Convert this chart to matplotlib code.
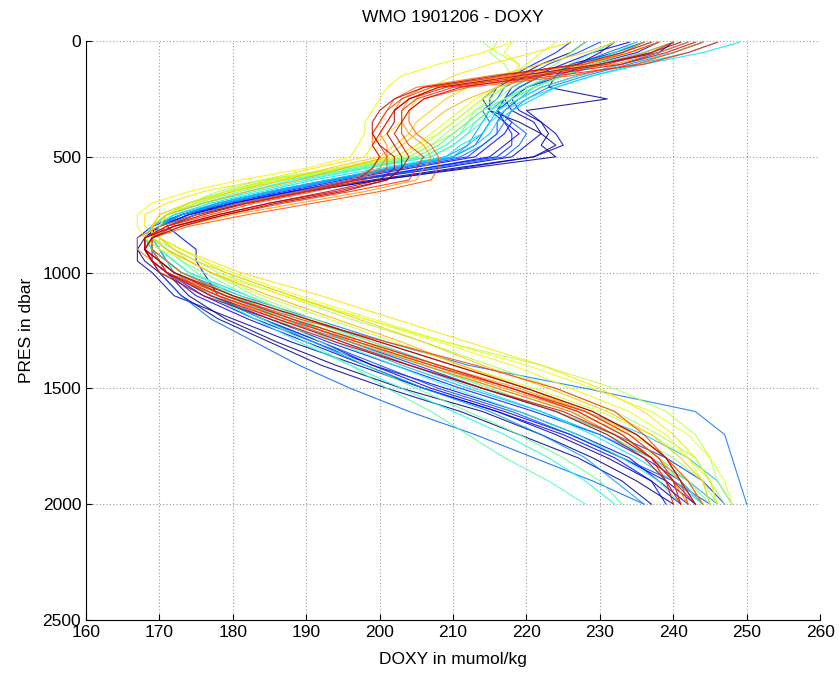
import matplotlib
matplotlib.use("Agg")
import matplotlib.pyplot as plt
import numpy as np

plt.rcParams['font.family'] = ['Liberation Sans Narrow', 'Liberation Sans', 'DejaVu Sans']

# niveles de presion (dbar)
pres = [5, 50, 100, 150, 200, 250, 300, 350, 400, 450, 500, 550, 600, 650, 700, 750,
        800, 850, 900, 950, 1000, 1100, 1200, 1300, 1400, 1500, 1600, 1700, 1800, 1900, 2000]

# perfiles DOXY (mumol/kg), en orden de ciclo
doxy_profiles = [
    [228, 226, 222, 219, 216, 214, 215, 219, 222, 224, 221, 210, 199, 189, 181, 174, 170, 168, 168, 169, 171, 174, 179, 186, 194, 203, 214, 222, 229, 235, 240],
    [236, 232, 226, 224, 223, 231, 220, 222, 223, 222, 224, 212, 200, 190, 182, 175, 170, 168, 167, 168, 170, 173, 178, 185, 192, 201, 211, 219, 227, 233, 237],
    [232, 230, 227, 222, 219, 217, 218, 221, 222, 220, 218, 208, 197, 188, 180, 173, 169, 167, 167, 167, 169, 172, 180, 188, 197, 206, 216, 224, 231, 237, 241],
    [240, 238, 230, 225, 220, 218, 219, 222, 224, 225, 221, 211, 200, 190, 182, 175, 171, 173, 175, 175, 176, 178, 184, 192, 199, 207, 217, 226, 233, 239, 243],
    [234, 229, 225, 221, 218, 217, 216, 217, 219, 217, 215, 206, 197, 188, 180, 174, 170, 169, 169, 169, 171, 176, 183, 191, 199, 209, 219, 227, 234, 238, 242],
    [238, 235, 229, 224, 220, 218, 216, 218, 217, 215, 213, 204, 195, 187, 179, 173, 169, 168, 168, 169, 171, 175, 182, 190, 198, 206, 216, 225, 232, 237, 239],
    [226, 224, 221, 218, 216, 215, 215, 217, 218, 218, 216, 206, 196, 188, 180, 174, 170, 168, 169, 170, 172, 177, 185, 193, 202, 211, 221, 230, 236, 241, 244],
    [242, 238, 233, 227, 222, 219, 217, 216, 216, 214, 212, 203, 194, 186, 179, 173, 170, 169, 169, 170, 172, 179, 188, 196, 205, 214, 224, 232, 239, 244, 247],
    [230, 227, 223, 220, 217, 216, 214, 215, 214, 213, 210, 202, 193, 185, 178, 173, 170, 169, 169, 170, 171, 177, 184, 192, 200, 208, 218, 226, 233, 240, 245],
    [235, 231, 227, 222, 219, 217, 216, 218, 220, 219, 217, 207, 197, 189, 181, 175, 171, 169, 168, 169, 170, 173, 177, 183, 189, 196, 204, 213, 221, 229, 236],
    [244, 240, 234, 228, 223, 220, 218, 217, 216, 214, 211, 202, 194, 186, 179, 173, 170, 169, 170, 171, 173, 181, 191, 201, 212, 228, 243, 247, 248, 249, 250],
    [236, 232, 227, 222, 219, 217, 215, 214, 213, 212, 209, 201, 193, 185, 178, 173, 169, 168, 169, 170, 171, 177, 184, 191, 198, 206, 215, 222, 228, 232, 236],
    [240, 236, 230, 225, 221, 219, 216, 215, 214, 212, 210, 202, 194, 186, 179, 173, 170, 169, 170, 171, 172, 179, 187, 195, 203, 212, 222, 230, 237, 242, 246],
    [246, 242, 235, 229, 224, 221, 218, 216, 215, 213, 210, 201, 193, 185, 178, 172, 170, 169, 170, 172, 174, 182, 190, 199, 208, 218, 228, 236, 242, 246, 248],
    [249, 244, 236, 229, 224, 220, 217, 215, 214, 211, 209, 200, 191, 184, 177, 172, 169, 168, 169, 171, 173, 180, 188, 196, 204, 213, 222, 229, 235, 240, 244],
    [240, 236, 230, 225, 221, 218, 215, 213, 212, 210, 207, 198, 190, 183, 176, 171, 169, 168, 169, 171, 172, 177, 183, 189, 196, 203, 210, 217, 223, 228, 232],
    [235, 232, 228, 224, 220, 217, 214, 212, 211, 209, 206, 197, 188, 182, 176, 171, 169, 168, 169, 171, 173, 180, 187, 194, 202, 210, 219, 227, 233, 238, 241],
    [244, 240, 233, 227, 222, 219, 216, 214, 212, 210, 207, 198, 189, 182, 176, 171, 169, 169, 170, 172, 174, 181, 189, 197, 206, 215, 224, 231, 237, 241, 244],
    [232, 229, 226, 223, 220, 217, 214, 212, 210, 208, 205, 196, 186, 180, 175, 171, 169, 168, 170, 172, 174, 178, 184, 190, 196, 201, 207, 212, 217, 223, 228],
    [238, 234, 229, 225, 221, 218, 215, 213, 211, 209, 206, 197, 187, 181, 175, 171, 169, 169, 171, 173, 175, 180, 186, 192, 198, 205, 212, 219, 225, 230, 233],
    [228, 226, 224, 221, 218, 216, 213, 212, 210, 208, 205, 195, 185, 179, 174, 171, 169, 169, 171, 173, 176, 182, 190, 198, 206, 215, 224, 232, 238, 242, 245],
    [236, 233, 229, 225, 221, 217, 214, 212, 210, 207, 204, 194, 184, 178, 174, 171, 169, 169, 172, 174, 177, 183, 191, 199, 207, 216, 226, 234, 240, 244, 246],
    [216, 215, 217, 218, 217, 215, 213, 211, 209, 207, 204, 195, 185, 179, 174, 171, 170, 170, 172, 175, 178, 187, 196, 206, 215, 224, 232, 238, 243, 245, 247],
    [214, 216, 219, 219, 217, 214, 212, 210, 208, 206, 203, 195, 186, 179, 174, 171, 170, 170, 173, 176, 179, 188, 198, 209, 222, 232, 239, 243, 245, 246, 248],
    [224, 222, 220, 218, 216, 214, 212, 210, 208, 205, 202, 194, 185, 179, 174, 170, 169, 169, 171, 174, 177, 184, 193, 202, 211, 221, 230, 237, 242, 245, 246],
    [218, 217, 219, 218, 216, 213, 211, 209, 207, 205, 202, 195, 186, 180, 175, 171, 170, 170, 173, 176, 180, 189, 199, 209, 220, 229, 237, 242, 245, 247, 248],
    [218, 214, 208, 203, 201, 200, 199, 198, 198, 197, 196, 190, 181, 174, 169, 167, 167, 168, 170, 174, 177, 187, 198, 208, 218, 226, 234, 239, 242, 244, 245],
    [226, 221, 215, 210, 207, 205, 204, 203, 201, 199, 198, 191, 184, 176, 171, 168, 168, 170, 173, 177, 181, 192, 202, 212, 222, 230, 236, 240, 243, 245, 246],
    [232, 228, 222, 216, 212, 209, 207, 205, 204, 202, 200, 193, 187, 180, 174, 170, 169, 170, 172, 175, 179, 188, 197, 206, 214, 223, 231, 237, 241, 244, 245],
    [238, 234, 228, 222, 216, 212, 209, 207, 205, 203, 201, 195, 189, 182, 176, 171, 169, 169, 171, 174, 177, 185, 194, 203, 211, 220, 228, 235, 239, 242, 244],
    [240, 236, 230, 220, 208, 204, 203, 203, 204, 206, 207, 206, 205, 198, 189, 180, 173, 169, 169, 170, 172, 179, 188, 198, 208, 219, 228, 234, 238, 241, 243],
    [242, 238, 232, 218, 206, 203, 202, 201, 200, 201, 201, 200, 197, 190, 182, 176, 171, 168, 168, 169, 171, 178, 187, 197, 207, 217, 227, 233, 237, 240, 242],
    [236, 233, 228, 215, 205, 202, 201, 200, 199, 199, 200, 199, 196, 189, 181, 175, 170, 167, 167, 169, 170, 178, 186, 196, 206, 216, 226, 232, 237, 240, 241],
    [244, 240, 235, 226, 212, 206, 204, 204, 205, 207, 208, 208, 207, 200, 191, 182, 174, 169, 169, 171, 173, 180, 190, 200, 210, 220, 229, 235, 239, 242, 244],
    [238, 234, 228, 217, 207, 203, 201, 200, 199, 200, 201, 201, 198, 191, 183, 177, 171, 168, 168, 170, 171, 179, 189, 201, 213, 224, 232, 236, 239, 241, 242],
    [246, 242, 236, 224, 210, 205, 203, 203, 203, 204, 206, 205, 204, 196, 187, 179, 172, 168, 168, 169, 171, 178, 187, 197, 207, 218, 228, 234, 238, 240, 241],
    [240, 237, 231, 221, 209, 204, 202, 201, 200, 199, 200, 199, 197, 190, 182, 176, 171, 168, 168, 170, 172, 179, 188, 198, 208, 218, 227, 233, 237, 239, 240],
    [243, 239, 233, 222, 211, 206, 204, 203, 202, 203, 204, 203, 201, 194, 185, 178, 172, 169, 168, 169, 171, 177, 186, 195, 204, 214, 225, 232, 237, 240, 243],
    [237, 233, 227, 216, 206, 202, 200, 199, 199, 200, 202, 202, 200, 193, 185, 178, 172, 168, 168, 169, 170, 176, 185, 194, 204, 214, 224, 231, 236, 239, 241],
    [241, 237, 230, 219, 208, 204, 202, 202, 201, 202, 203, 203, 201, 195, 186, 179, 173, 169, 168, 170, 172, 180, 190, 200, 210, 220, 229, 235, 239, 241, 243],
]

fig = plt.figure(figsize=(8.39, 6.73), dpi=100)
ax = fig.add_axes([0.1025, 0.079, 0.875, 0.86])

colores = plt.cm.jet(np.linspace(0.0, 0.97, len(doxy_profiles)))
for perfil, c in zip(doxy_profiles, colores):
    ax.plot(perfil, pres, color=c, lw=0.8, alpha=0.85)

ax.set_xlim(160, 260)
ax.set_ylim(2500, 0)
ax.set_xticks(np.arange(160, 261, 10))
ax.set_yticks(np.arange(0, 2501, 500))

ax.grid(True, linestyle=(0, (1, 2)), color="#9a9a9a", lw=0.8)
ax.spines["top"].set_visible(False)
ax.spines["right"].set_visible(False)
ax.tick_params(direction="in", length=4, labelsize=12.5)

ax.set_title("WMO 1901206 - DOXY", fontsize=12.5, pad=14)
ax.set_xlabel("DOXY in mumol/kg", fontsize=12.5, labelpad=9)
ax.set_ylabel("PRES in dbar", fontsize=12.5, labelpad=6)

fig.savefig("out.png", dpi=100)
